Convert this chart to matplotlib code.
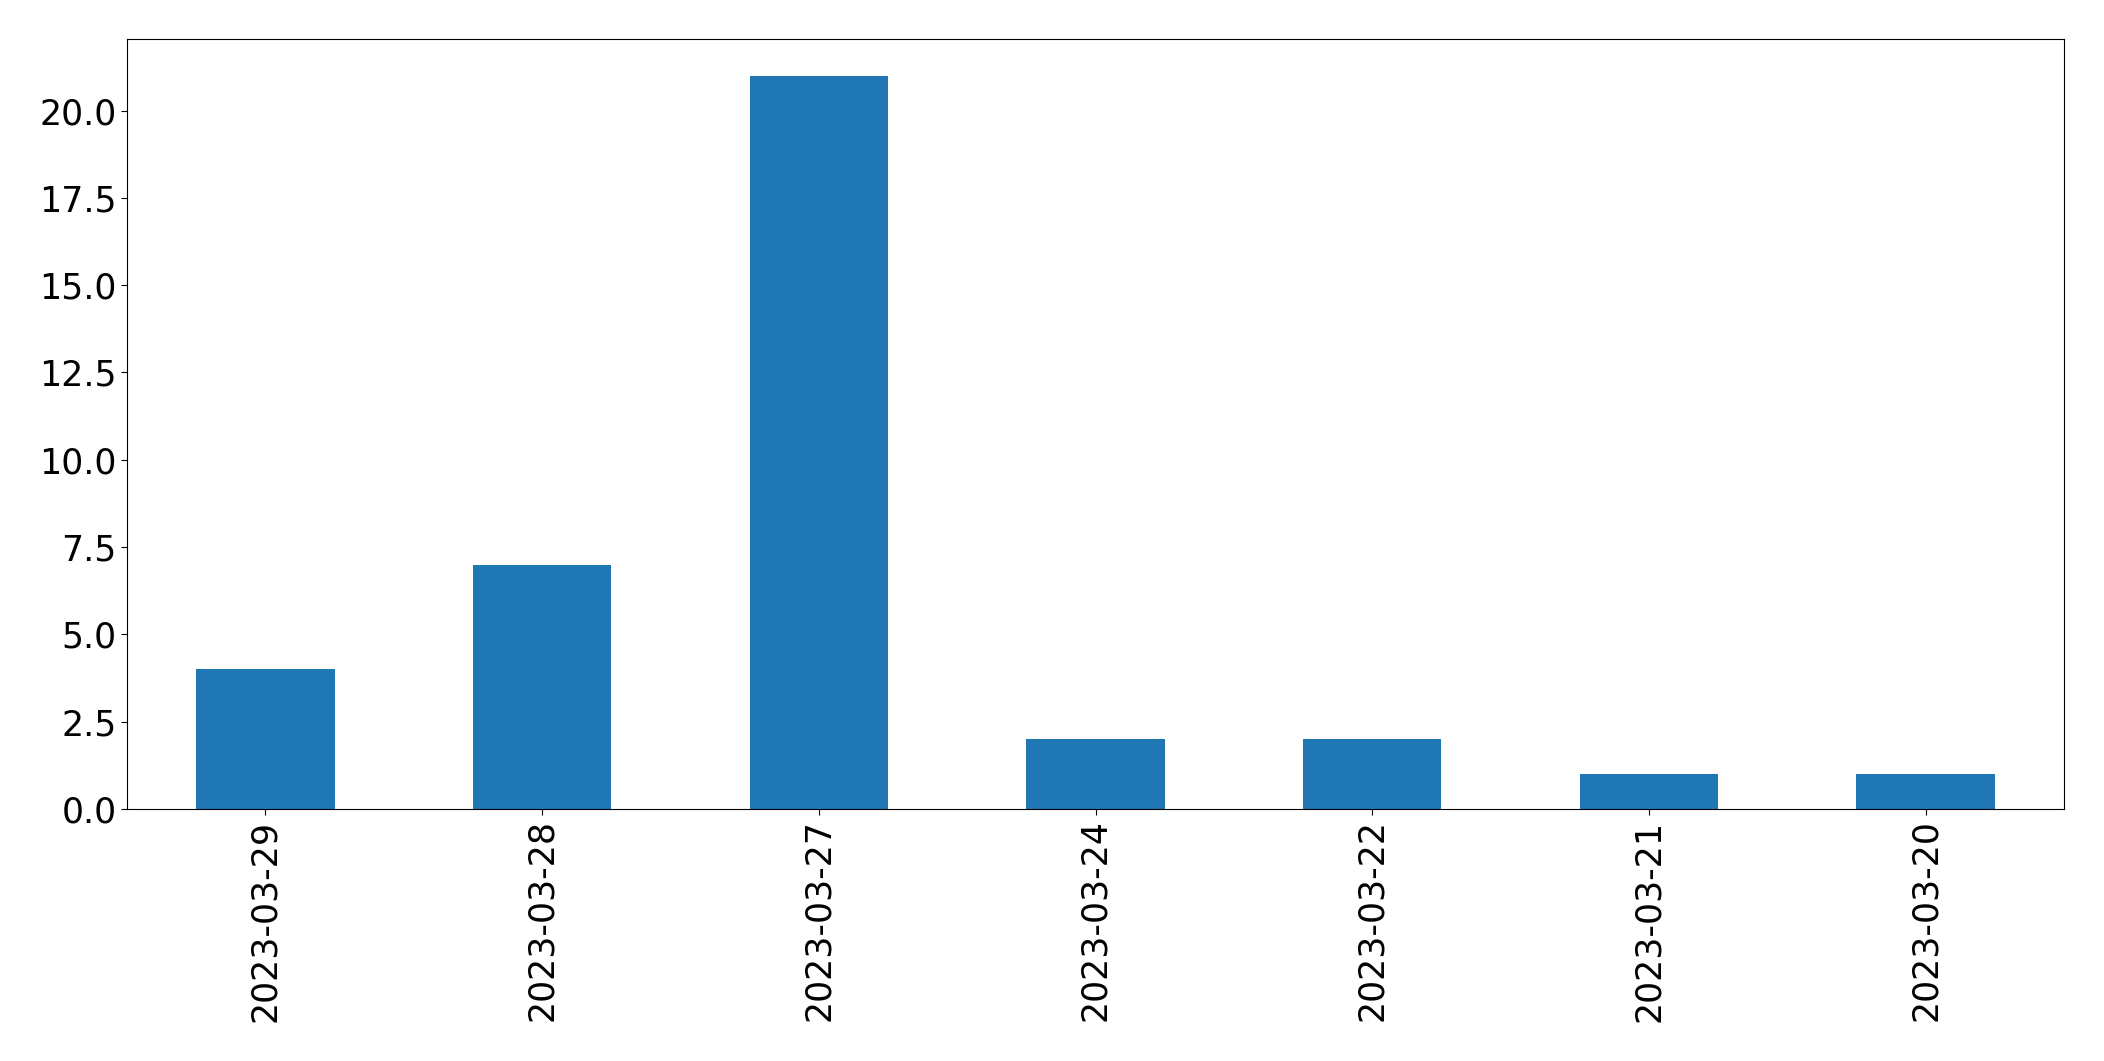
import matplotlib
matplotlib.use("Agg")
import matplotlib.pyplot as plt
import pandas as pd

dates = ["2023-03-29", "2023-03-28", "2023-03-27", "2023-03-24",
         "2023-03-22", "2023-03-21", "2023-03-20"]
counts = [4, 7, 21, 2, 2, 1, 1]


def main() -> None:
    series = pd.Series(counts, index=dates)

    fig, ax = plt.subplots(figsize=(21.04, 10.61), dpi=100)
    series.plot(kind="bar", ax=ax, color="#1f77b4", width=0.5)
    ax.tick_params(axis="both", labelsize=25, length=4)
    ax.set_xlabel("")
    fig.subplots_adjust(left=127 / 2104, right=2064 / 2104,
                        top=1 - 39 / 1061, bottom=1 - 809 / 1061)
    fig.savefig("out.png", dpi=100)
    plt.close(fig)


if __name__ == "__main__":
    main()
